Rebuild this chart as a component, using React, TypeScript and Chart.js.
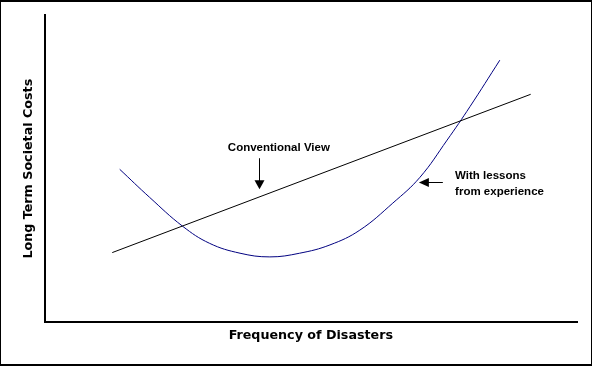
import React, { useEffect, useRef } from "react";
import { Chart, registerables } from "chart.js";

Chart.register(...registerables);

// Data (axis units 0..100, no ticks shown in the original)
const conventionalX = [12.7, 91.3];
const conventionalY = [22.7, 74.2];

const lessonsX = [14.1, 19.7, 25.9, 31.0, 36.7, 42.3, 47.9, 53.6, 59.2, 65.4, 70.5, 75.6, 79.9, 85.5];
const lessonsY = [49.8, 40.7, 31.3, 25.7, 22.5, 21.3, 22.5, 25.2, 30.0, 38.8, 47.2, 59.3, 70.2, 85.3];

const xTitle = "Frequency of Disasters";
const yTitle = "Long Term Societal Costs";

const annotationTexts = ["Conventional View", "With lessons", "from experience"];

// Annotation placement (in data units)
const annotationConfig = {
  conventional: { x: 44.0, y: 56.7 },
  conventionalArrow: { x: 40.2, y1: 53.4, y2: 43.3 },
  lessons: { x: 77.1, y1: 47.6, y2: 42.4 },
  lessonsArrow: { y: 45.6, x1: 74.8, x2: 70.3 },
};

const FONT = "'Liberation Sans', Arial, sans-serif";
const TITLE_FONT = "'DejaVu Sans', 'Liberation Sans', sans-serif";

const annotationPlugin = {
  id: "annotations",
  afterDatasetsDraw(chart: any) {
    const { ctx, scales } = chart;
    const xs = scales.x;
    const ys = scales.y;
    const a = annotationConfig;
    ctx.save();
    ctx.fillStyle = "#000";
    ctx.strokeStyle = "#000";
    ctx.font = `bold 11.5px ${FONT}`;
    ctx.textBaseline = "middle";

    ctx.textAlign = "center";
    ctx.fillText(annotationTexts[0], xs.getPixelForValue(a.conventional.x), ys.getPixelForValue(a.conventional.y));

    const ax = Math.round(xs.getPixelForValue(a.conventionalArrow.x)) + 0.5;
    const ay1 = ys.getPixelForValue(a.conventionalArrow.y1);
    const ay2 = ys.getPixelForValue(a.conventionalArrow.y2);
    ctx.lineWidth = 1;
    ctx.beginPath();
    ctx.moveTo(ax, ay1);
    ctx.lineTo(ax, ay2 - 8);
    ctx.stroke();
    ctx.beginPath();
    ctx.moveTo(ax - 5, ay2 - 9);
    ctx.lineTo(ax + 5, ay2 - 9);
    ctx.lineTo(ax, ay2);
    ctx.closePath();
    ctx.fill();

    ctx.textAlign = "left";
    const lx = xs.getPixelForValue(a.lessons.x);
    ctx.fillText(annotationTexts[1], lx, ys.getPixelForValue(a.lessons.y1));
    ctx.fillText(annotationTexts[2], lx, ys.getPixelForValue(a.lessons.y2));

    const hy = Math.round(ys.getPixelForValue(a.lessonsArrow.y)) + 0.5;
    const hx1 = xs.getPixelForValue(a.lessonsArrow.x1);
    const hx2 = xs.getPixelForValue(a.lessonsArrow.x2);
    ctx.beginPath();
    ctx.moveTo(hx1, hy);
    ctx.lineTo(hx2 + 8, hy);
    ctx.stroke();
    ctx.beginPath();
    ctx.moveTo(hx2 + 10, hy - 4.5);
    ctx.lineTo(hx2 + 10, hy + 4.5);
    ctx.lineTo(hx2, hy);
    ctx.closePath();
    ctx.fill();
    ctx.restore();
  },
};

const framePlugin = {
  id: "frame",
  afterDraw(chart: any) {
    const { ctx, width, height } = chart;
    ctx.save();
    ctx.fillStyle = "#000";
    ctx.fillRect(0, 0, width, 2);
    ctx.fillRect(0, height - 2, width, 2);
    ctx.fillRect(0, 0, 1, height);
    ctx.fillRect(width - 1, 0, 1, height);
    ctx.restore();
  },
};

export default function App() {
  const canvasRef = useRef<HTMLCanvasElement | null>(null);

  useEffect(() => {
    document.body.style.margin = "0";
    const canvas = canvasRef.current;
    if (!canvas) return;
    const chart = new Chart(canvas, {
      type: "scatter",
      data: {
        datasets: [
          {
            label: "Conventional View",
            data: conventionalX.map((x, i) => ({ x, y: conventionalY[i] })),
            showLine: true,
            borderColor: "#000000",
            borderWidth: 1,
            pointRadius: 0,
            tension: 0,
          },
          {
            label: "With lessons from experience",
            data: lessonsX.map((x, i) => ({ x, y: lessonsY[i] })),
            showLine: true,
            borderColor: "#000080",
            borderWidth: 1,
            pointRadius: 0,
            tension: 0.4,
          },
        ],
      },
      options: {
        animation: false,
        responsive: false,
        devicePixelRatio: 1,
        events: [],
        layout: { padding: { left: 16.7, right: 15, top: 15, bottom: 18.4 } },
        plugins: { legend: { display: false }, tooltip: { enabled: false } },
        scales: {
          x: {
            type: "linear",
            min: 0,
            max: 100,
            grid: { display: false, drawTicks: false },
            ticks: { display: false },
            border: { display: true, color: "#000", width: 2 },
            title: {
              display: true,
              text: xTitle,
              color: "#000",
              font: { family: TITLE_FONT, size: 12.7, weight: "bold", lineHeight: 1.2 },
              padding: { top: 6, bottom: 4 },
            },
          },
          y: {
            type: "linear",
            min: 0,
            max: 100,
            grid: { display: false, drawTicks: false },
            ticks: { display: false },
            border: { display: true, color: "#000", width: 2 },
            title: {
              display: true,
              text: yTitle,
              color: "#000",
              font: { family: TITLE_FONT, size: 12.7, weight: "bold", lineHeight: 1.2 },
              padding: { top: 4, bottom: 8.7 },
            },
          },
        },
      },
      plugins: [annotationPlugin, framePlugin],
    });
    return () => chart.destroy();
  }, []);

  return (
    <canvas
      ref={canvasRef}
      width={592}
      height={366}
      style={{ display: "block", width: 592, height: 366 }}
    />
  );
}
